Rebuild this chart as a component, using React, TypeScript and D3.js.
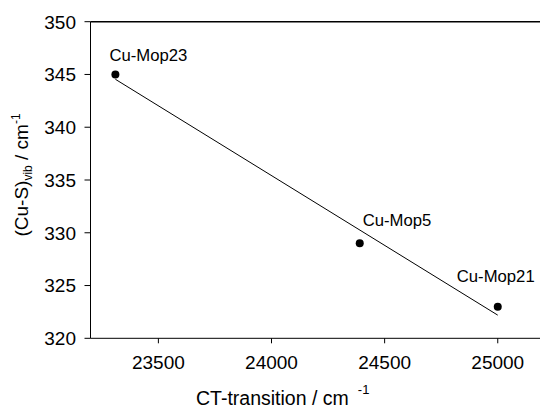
import React from "react";
import * as d3 from "d3";

const names = ["Cu-Mop23", "Cu-Mop5", "Cu-Mop21"];
const ctTransition = [23310, 24390, 25000];
const cuSVib = [345, 329, 323];
const xTicks = [23500, 24000, 24500, 25000];
const yTicks = [320, 325, 330, 335, 340, 345, 350];

const W = 540;
const H = 410;
const FONT = "'Liberation Sans', Arial, Helvetica, sans-serif";

export default function App() {
  const x = d3.scaleLinear().domain([23200, 25200]).range([90.5, 543]);
  const y = d3.scaleLinear().domain([320, 350]).range([338.3, 21.7]);

  // least-squares regression line
  const mx = d3.mean(ctTransition) as number;
  const my = d3.mean(cuSVib) as number;
  let sxy = 0;
  let sxx = 0;
  ctTransition.forEach((v, i) => {
    sxy += (v - mx) * (cuSVib[i] - my);
    sxx += (v - mx) * (v - mx);
  });
  const slope = sxy / sxx;
  const icpt = my - slope * mx;
  const x0 = d3.min(ctTransition) as number;
  const x1 = d3.max(ctTransition) as number;
  const line = d3.line<number>()
    .x((d) => x(d))
    .y((d) => y(icpt + slope * d));

  const labelOffsets = [
    { dx: -6, dy: -13 },
    { dx: 3, dy: -17 },
    { dx: -41, dy: -25 },
  ];

  const left = x(23200);
  const bottom = y(320);
  const top = y(350);

  return (
    <svg
      width={W}
      height={H}
      style={{ position: "absolute", left: 0, top: 0, background: "#fff" }}
      fontFamily={FONT}
    >
      {/* frame */}
      <line x1={left} x2={W} y1={top} y2={top} stroke="#000" strokeWidth={1.5} />
      <line x1={left} x2={left} y1={top} y2={bottom} stroke="#000" strokeWidth={1} />
      <line x1={left} x2={W} y1={bottom} y2={bottom} stroke="#000" strokeWidth={1} />

      {/* y ticks */}
      {yTicks.map((t) => (
        <g key={"y" + t}>
          <line x1={left - 6} x2={left} y1={y(t)} y2={y(t)} stroke="#000" strokeWidth={1} />
          <text x={76} y={y(t) + 6.8} textAnchor="end" fontSize={19} fill="#000">
            {t}
          </text>
        </g>
      ))}

      {/* x ticks */}
      {xTicks.map((t) => (
        <g key={"x" + t}>
          <line x1={x(t)} x2={x(t)} y1={bottom} y2={bottom + 5} stroke="#000" strokeWidth={1} />
          <text x={x(t)} y={369} textAnchor="middle" fontSize={19} fill="#000">
            {t}
          </text>
        </g>
      ))}

      {/* regression line */}
      <path d={line([x0, x1]) || ""} fill="none" stroke="#000" strokeWidth={1} />

      {/* points */}
      {ctTransition.map((v, i) => (
        <circle key={"p" + i} cx={x(v)} cy={y(cuSVib[i])} r={4} fill="#000" />
      ))}

      {/* labels */}
      {ctTransition.map((v, i) => (
        <text
          key={"l" + i}
          x={x(v) + labelOffsets[i].dx}
          y={y(cuSVib[i]) + labelOffsets[i].dy}
          fontSize={16.7}
          fill="#000"
        >
          {names[i]}
        </text>
      ))}

      {/* x axis title */}
      <text x={196} y={405} fontSize={19.5} fill="#000">
        CT-transition / cm
        <tspan dx={9} dy={-11} fontSize={13}>-1</tspan>
      </text>

      {/* y axis title */}
      <text
        transform={`translate(28,${(108 + 242) / 2}) rotate(-90)`}
        textAnchor="middle"
        fontSize={19}
        fill="#000"
      >
        (Cu-S)
        <tspan fontSize={12} dy={4}>vib</tspan>
        <tspan dy={-4}> / cm</tspan>
        <tspan fontSize={12} dy={-8}>-1</tspan>
      </text>
    </svg>
  );
}
